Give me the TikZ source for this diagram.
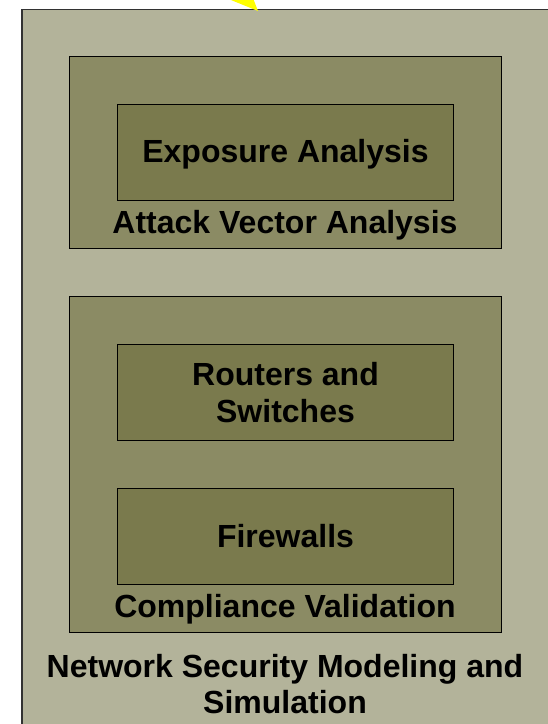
\documentclass[tikz,border=0pt]{standalone}
\usepackage{fontspec}
\setmainfont{Liberation Sans}
\definecolor{outerfill}{RGB}{179,179,154}
\definecolor{midfill}{RGB}{139,139,100}
\definecolor{innerfill}{RGB}{122,122,77}
\definecolor{outerline}{RGB}{50,50,50}
\definecolor{arrowyellow}{RGB}{255,255,0}
\begin{document}
\begin{tikzpicture}[x=1pt,y=-1pt,
  lbl/.style={font=\bfseries\fontsize{32}{37}\selectfont, text=black, inner sep=0pt, align=center},
  outerbox/.style={draw=outerline, line width=1.5pt, fill=outerfill, inner sep=0pt, anchor=north west},
  groupbox/.style={draw=black, line width=1pt, fill=midfill, inner sep=0pt, anchor=north west, minimum width=432pt},
  leafbox/.style={draw=black, line width=1pt, fill=innerfill, inner sep=0pt, anchor=north west, minimum width=336pt, minimum height=96pt}
]
\useasboundingbox (0,0) rectangle (548,724);
\clip (0,0) rectangle (548,724);
\fill[white] (0,0) rectangle (548,724);
% outer container
\node[outerbox, minimum width=560pt, minimum height=760pt] (outer) at (21,8.5) {};
% attack vector group
\node[groupbox, minimum height=192pt] (attack) at (69,56) {};
\node[leafbox] (exposure) at (117,104) {};
\node[lbl, yshift=-2pt] (exposurelbl) at (exposure.center) {Exposure Analysis};
\node[lbl, anchor=base] (attacklbl) at (285,233) {Attack Vector Analysis};
% compliance group
\node[groupbox, minimum height=336pt] (compliance) at (69,296) {};
\node[leafbox] (routers) at (117,344) {};
\node[lbl] (routerslbl) at (routers.center) {Routers and\\Switches};
\node[leafbox] (firewalls) at (117,488) {};
\node[lbl] (firewallslbl) at (firewalls.center) {Firewalls};
\node[lbl, anchor=base] (compllbl) at (285,617) {Compliance Validation};
% outer label
\node[lbl, anchor=base] (netlbl1) at (285,677) {Network Security Modeling and};
\node[lbl, anchor=base] (netlbl2) at (285,713) {Simulation};
% incoming yellow arrow tip
\coordinate (tip) at (258,11);
\fill[arrowyellow] (226,-2) -- (253,-2) -- (tip) -- cycle;
\end{tikzpicture}
\end{document}
